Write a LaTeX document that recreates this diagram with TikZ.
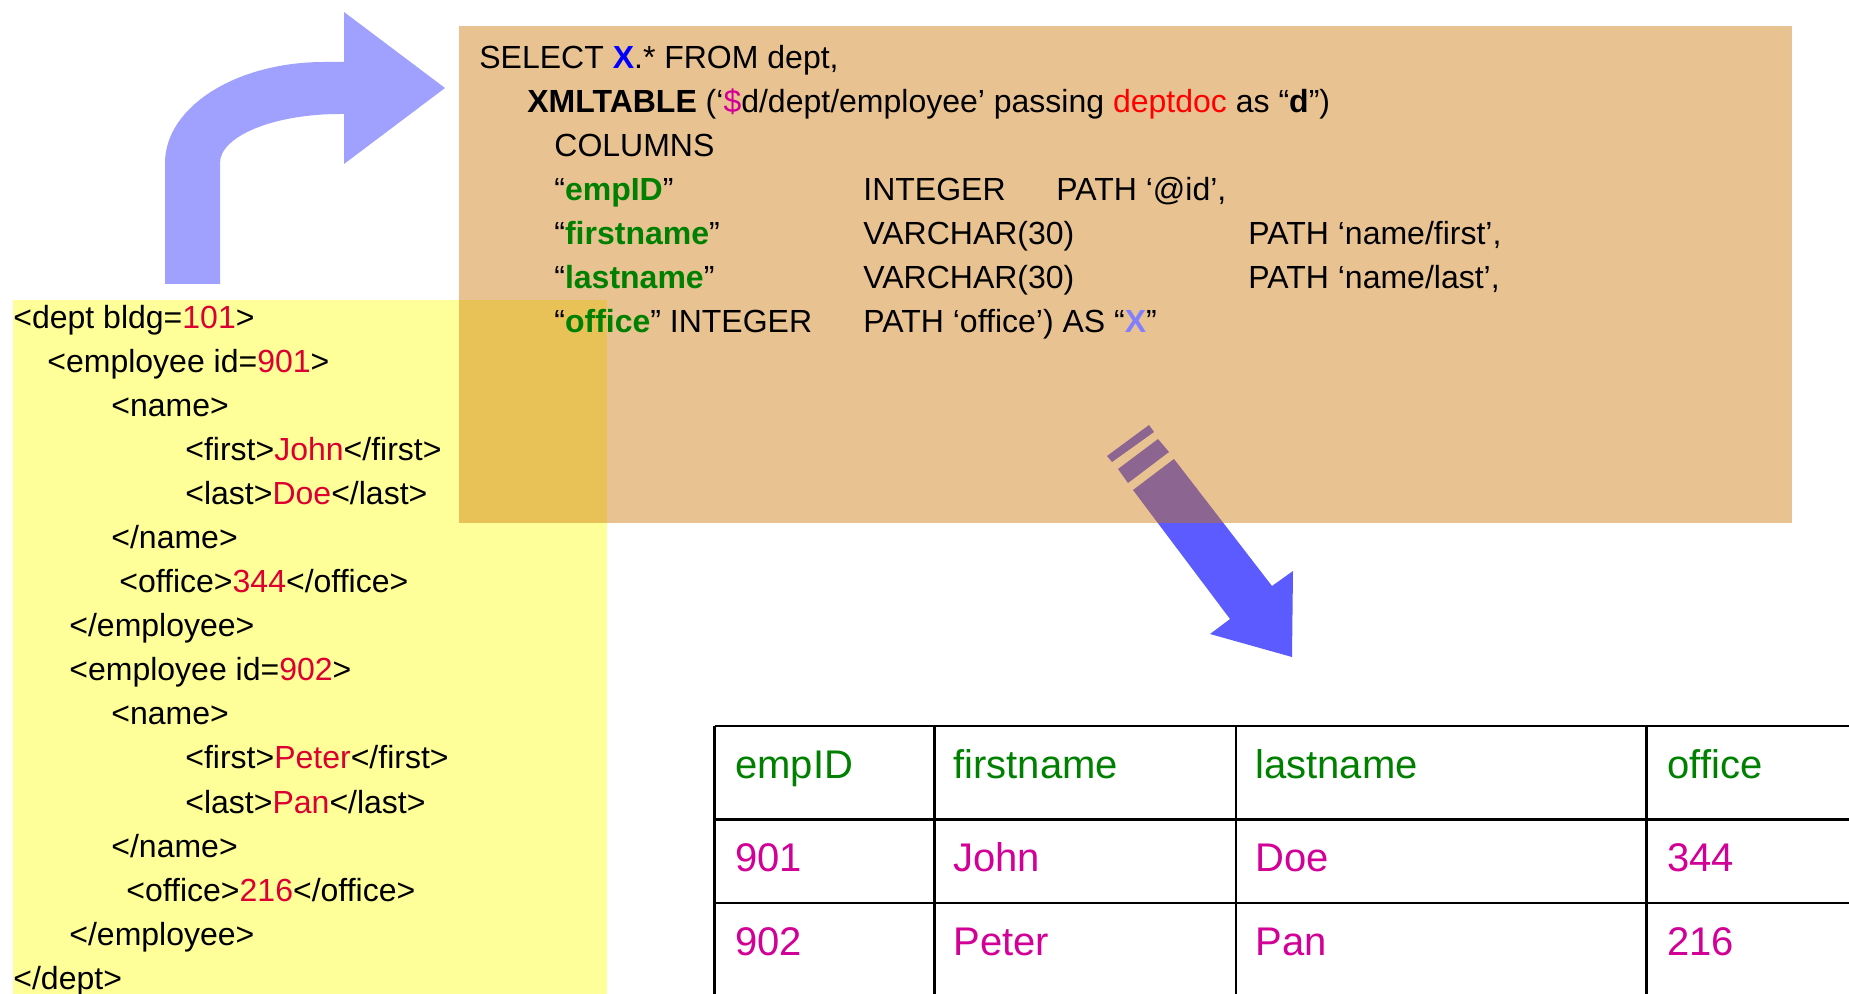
\documentclass[tikz,border=0pt]{standalone}
\usepackage{fontspec}
\setmainfont{Liberation Sans}
\usepackage{tikz}
\definecolor{xmlyellow}{RGB}{255,255,153}
\definecolor{sqltan}{RGB}{203,116,5}
\definecolor{bendblue}{RGB}{160,160,255}
\definecolor{downblue}{RGB}{91,91,255}
\definecolor{colgreen}{RGB}{0,128,0}
\definecolor{valred}{RGB}{220,0,50}
\definecolor{cellpink}{RGB}{210,0,150}
\definecolor{paramred}{RGB}{255,0,0}
\definecolor{xblue}{RGB}{0,0,255}
\definecolor{xlight}{RGB}{128,128,255}
\newcommand{\xval}[1]{\textcolor{valred}{#1}}
\newcommand{\colname}[1]{“\textbf{\textcolor{colgreen}{#1}}”}
\tikzset{
	code/.style = {anchor=base west, inner sep=0pt,
		font=\fontsize{16}{19}\selectfont},
	xml/.style  = {code},
	cell/.style = {anchor=base west, inner sep=0pt,
		font=\fontsize{20}{24}\selectfont},
	head/.style = {cell, text=colgreen},
	val/.style  = {cell, text=cellpink},
	grid/.style = {draw, line width=1.2pt}
}
\begin{document}
\begin{tikzpicture}
	[
	x = 0.5pt,
	y = -0.5pt
	]
	\useasboundingbox (0,0) rectangle (1849,994);
	\clip (0,0) rectangle (1849,994);
	% document panel
	\fill [xmlyellow] (13,300) rectangle (607,1000);
	% arrows
	\fill [bendblue] (165,284) -- (165,163)
		.. controls (165,107) and (236,62) .. (324,62)
		-- (344,62) -- (344,12) -- (445,88) -- (344,164) -- (344,114) -- (340,114)
		.. controls (274,114) and (220,136) .. (220,163)
		-- (220,284) -- cycle;
	\fill [downblue] (1133,490) -- (1174,459) -- (1272,586) -- (1293,571)
		-- (1292,657) -- (1210,634) -- (1230,619) -- cycle;
	\fill [downblue] (1118,469) -- (1158,439) -- (1169,452) -- (1128,483) -- cycle;
	\fill [downblue] (1107,456) -- (1149,425) -- (1154,432) -- (1112,462) -- cycle;
	% query panel
	\fill [sqltan, fill opacity=0.44] (459,26) rectangle (1792,523);
	% query
	\node [code] (sel) at (479,69) {SELECT \textbf{\textcolor{xblue}{X}}.* FROM dept,};
	\node [code] (xt) at (527,113) {\textbf{XMLTABLE} (‘\textcolor{cellpink}{\$}d/dept/employee’ passing \textcolor{paramred}{deptdoc} as “\textbf{d}”)};
	\node [code] (cols) at (554,157) {COLUMNS};
	\node [code] (cid) at (554,201) {\colname{empID}};
	\node [code] (cidtype) at (863,201) {INTEGER};
	\node [code] (cidpath) at (1056,201) {PATH ‘@id’,};
	\node [code] (cfirst) at (554,245) {\colname{firstname}};
	\node [code] (cfirsttype) at (863,245) {VARCHAR(30)};
	\node [code] (cfirstpath) at (1248,245) {PATH ‘name/first’,};
	\node [code] (clast) at (554,289) {\colname{lastname}};
	\node [code] (clasttype) at (863,289) {VARCHAR(30)};
	\node [code] (clastpath) at (1248,289) {PATH ‘name/last’,};
	\node [code] (coff) at (554,333) {\colname{office} INTEGER};
	\node [code] (coffpath) at (863,333) {PATH ‘office’) AS “\textbf{\textcolor{xlight}{X}}”};
	% document
	\node [xml] (dept) at (13,329) {<dept bldg=\xval{101}>};
	\node [xml] (emp1) at (47,373) {<employee id=\xval{901}>};
	\node [xml] (name1) at (111,417) {<name>};
	\node [xml] (first1) at (185,461) {<first>\xval{John}</first>};
	\node [xml] (last1) at (185,505) {<last>\xval{Doe}</last>};
	\node [xml] (name1end) at (111,549) {</name>};
	\node [xml] (off1) at (119,593) {<office>\xval{344}</office>};
	\node [xml] (emp1end) at (69,637) {</employee>};
	\node [xml] (emp2) at (69,681) {<employee id=\xval{902}>};
	\node [xml] (name2) at (111,725) {<name>};
	\node [xml] (first2) at (185,769) {<first>\xval{Peter}</first>};
	\node [xml] (last2) at (185,813) {<last>\xval{Pan}</last>};
	\node [xml] (name2end) at (111,857) {</name>};
	\node [xml] (off2) at (126,901) {<office>\xval{216}</office>};
	\node [xml] (emp2end) at (69,945) {</employee>};
	\node [xml] (deptend) at (13,989) {</dept>};
	% result table
	\draw [grid] (714.6,726) -- (1860,726) (714.6,819.3) -- (1860,819.3)
		(714.6,902.7) -- (1860,902.7);
	\draw [grid] (714.6,726) -- (714.6,1000) (934.4,726) -- (934.4,1000)
		(1236,726) -- (1236,1000) (1646.5,726) -- (1646.5,1000);
	\node [head] (hid) at (735,778) {empID};
	\node [head] (hfirst) at (953,778) {firstname};
	\node [head] (hlast) at (1255,778) {lastname};
	\node [head] (hoff) at (1667,778) {office};
	\node [val] (r1id) at (735,871) {901};
	\node [val] (r1first) at (953,871) {John};
	\node [val] (r1last) at (1255,871) {Doe};
	\node [val] (r1off) at (1667,871) {344};
	\node [val] (r2id) at (735,955) {902};
	\node [val] (r2first) at (953,955) {Peter};
	\node [val] (r2last) at (1255,955) {Pan};
	\node [val] (r2off) at (1667,955) {216};
\end{tikzpicture}
\end{document}
